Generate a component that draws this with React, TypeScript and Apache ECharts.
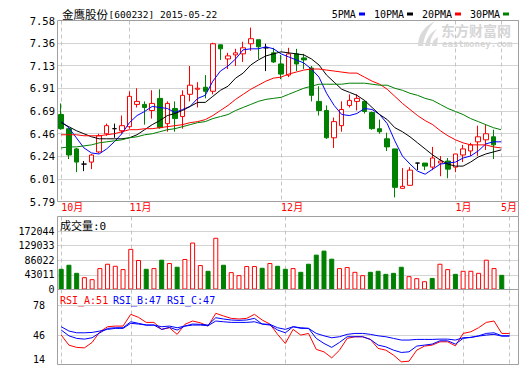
import React, { useEffect, useRef } from 'react';
import * as echarts from 'echarts';

const dates = [
  '2014-10-21', '2014-10-22', '2014-10-23', '2014-10-24', '2014-10-27', '2014-10-28', '2014-10-29', '2014-10-30', '2014-10-31',
  '2014-11-03', '2014-11-04', '2014-11-05', '2014-11-06', '2014-11-07', '2014-11-10', '2014-11-11', '2014-11-12', '2014-11-13', '2014-11-14',
  '2014-11-17', '2014-11-18', '2014-11-19', '2014-11-20', '2014-11-21', '2014-11-24', '2014-11-25', '2014-11-26', '2014-11-27', '2014-11-28',
  '2014-12-01', '2014-12-02', '2014-12-03', '2014-12-04', '2014-12-05', '2014-12-08', '2014-12-09', '2014-12-10', '2014-12-11', '2014-12-12',
  '2014-12-15', '2014-12-16', '2014-12-17', '2014-12-18', '2014-12-19', '2014-12-22', '2014-12-23', '2014-12-24', '2014-12-25', '2014-12-26',
  '2014-12-29', '2014-12-30', '2014-12-31',
  '2015-01-05', '2015-01-06', '2015-01-07', '2015-01-08', '2015-01-09', '2015-01-12',
  '2015-05-22',
];

// [open, close, low, high]
const candles = [
  [6.65, 6.51, 6.50, 6.76], [6.51, 6.25, 6.21, 6.52], [6.31, 6.18, 6.08, 6.32], [6.16, 6.16, 6.09, 6.19],
  [6.18, 6.25, 6.11, 6.26], [6.28, 6.44, 6.27, 6.46], [6.46, 6.54, 6.44, 6.56], [6.51, 6.51, 6.42, 6.56],
  [6.49, 6.54, 6.46, 6.64], [6.53, 6.83, 6.51, 6.88], [6.75, 6.78, 6.72, 6.91], [6.75, 6.72, 6.55, 6.78],
  [6.69, 6.76, 6.61, 6.89], [6.81, 6.52, 6.51, 6.90], [6.56, 6.76, 6.48, 6.78], [6.71, 6.61, 6.48, 6.78],
  [6.63, 6.84, 6.51, 6.89], [6.85, 6.94, 6.78, 7.13], [6.90, 6.91, 6.72, 6.97], [6.92, 6.88, 6.81, 7.04],
  [6.88, 7.35, 6.85, 7.36], [7.34, 7.30, 7.19, 7.34], [7.20, 7.23, 7.10, 7.26], [7.24, 7.26, 7.13, 7.30],
  [7.25, 7.31, 7.17, 7.37], [7.35, 7.40, 7.28, 7.51], [7.39, 7.32, 7.20, 7.39], [7.31, 7.31, 7.08, 7.35],
  [7.26, 7.17, 7.16, 7.31], [7.15, 7.05, 7.00, 7.24], [7.04, 7.25, 7.02, 7.31], [7.25, 7.15, 7.08, 7.30],
  [7.21, 7.19, 7.10, 7.25], [7.11, 6.84, 6.78, 7.13], [6.78, 6.69, 6.64, 6.93], [6.69, 6.42, 6.41, 6.74],
  [6.42, 6.58, 6.32, 6.62], [6.54, 6.70, 6.48, 6.78], [6.74, 6.79, 6.72, 6.85], [6.78, 6.81, 6.69, 6.85],
  [6.78, 6.68, 6.66, 6.79], [6.67, 6.51, 6.50, 6.68], [6.51, 6.48, 6.46, 6.60], [6.41, 6.33, 6.29, 6.47],
  [6.31, 5.93, 5.83, 6.31], [5.92, 5.94, 5.92, 6.12], [5.95, 6.10, 5.95, 6.13], [6.17, 6.17, 6.10, 6.17],
  [6.17, 6.14, 6.10, 6.17], [6.13, 6.22, 6.10, 6.33], [6.17, 6.19, 6.04, 6.24], [6.19, 6.11, 6.02, 6.22],
  [6.13, 6.26, 6.08, 6.26], [6.25, 6.31, 6.18, 6.35], [6.29, 6.35, 6.24, 6.37], [6.38, 6.43, 6.24, 6.54],
  [6.40, 6.46, 6.30, 6.55], [6.43, 6.35, 6.21, 6.50],
];

const volumes = [
  61000, 72900, 49100, 36300, 30400, 63100, 75900, 69900, 60100, 119700,
  86900, 61000, 63100, 87800, 78000, 67000, 89900, 138400, 72000, 55100,
  152400, 72900, 51200, 42300, 69100, 69100, 64000, 78000, 69900, 61000,
  63100, 52100, 75900, 102700, 114600, 90800, 63100, 66100, 52100, 42300,
  52100, 55100, 46100, 49100, 67000, 39300, 33300, 24400, 34200, 75900,
  60100, 46100, 55100, 55100, 49100, 87800, 63100, 43200, 0,
];

const ma5 = [
  6.58, 6.52, 6.42, 6.32, 6.27, 6.26, 6.31, 6.38, 6.46, 6.57,
  6.64, 6.68, 6.73, 6.72, 6.71, 6.67, 6.70, 6.73, 6.81, 6.84,
  6.98, 7.08, 7.13, 7.20, 7.29, 7.30, 7.30, 7.32, 7.30, 7.25,
  7.22, 7.19, 7.16, 7.10, 7.02, 6.86, 6.74, 6.65, 6.64, 6.66,
  6.71, 6.70, 6.65, 6.56, 6.39, 6.24, 6.16, 6.09, 6.06, 6.11,
  6.16, 6.17, 6.18, 6.22, 6.24, 6.29, 6.36, 6.38, 6.38,
];
const ma10 = [
  6.57, 6.53, 6.49, 6.46, 6.43, 6.41, 6.41, 6.41, 6.41, 6.42,
  6.45, 6.50, 6.55, 6.59, 6.64, 6.66, 6.69, 6.73, 6.77, 6.77,
  6.83, 6.89, 6.93, 7.01, 7.06, 7.14, 7.19, 7.23, 7.25, 7.27,
  7.26, 7.25, 7.24, 7.20, 7.14, 7.04, 6.97, 6.90, 6.87, 6.84,
  6.79, 6.72, 6.65, 6.60, 6.52, 6.48, 6.43, 6.37, 6.31, 6.25,
  6.20, 6.16, 6.14, 6.14, 6.18, 6.23, 6.26, 6.28, 6.30,
];
const ma20 = [
  6.45, 6.45, 6.45, 6.44, 6.44, 6.44, 6.45, 6.46, 6.48, 6.50,
  6.50, 6.51, 6.51, 6.52, 6.53, 6.54, 6.55, 6.57, 6.58, 6.60,
  6.64, 6.69, 6.74, 6.80, 6.85, 6.90, 6.94, 6.98, 7.01, 7.02,
  7.05, 7.07, 7.09, 7.10, 7.10, 7.09, 7.08, 7.07, 7.06, 7.06,
  7.02, 6.98, 6.95, 6.90, 6.83, 6.76, 6.70, 6.64, 6.59, 6.55,
  6.49, 6.44, 6.40, 6.37, 6.35, 6.35, 6.35, 6.33, 6.32,
];
const ma30 = [
  6.32, 6.33, 6.33, 6.34, 6.35, 6.37, 6.38, 6.39, 6.40, 6.42,
  6.43, 6.45, 6.46, 6.48, 6.50, 6.51, 6.53, 6.55, 6.57, 6.58,
  6.61, 6.63, 6.65, 6.69, 6.72, 6.75, 6.78, 6.80, 6.81, 6.82,
  6.85, 6.88, 6.91, 6.93, 6.95, 6.95, 6.95, 6.95, 6.96, 6.96,
  6.96, 6.95, 6.94, 6.94, 6.91, 6.89, 6.86, 6.84, 6.81, 6.79,
  6.75, 6.71, 6.68, 6.65, 6.61, 6.58, 6.55, 6.52, 6.50,
];

const rsiA = [
  46.0, 35.1, 32.6, 32.1, 38.0, 49.6, 55.1, 55.8, 55.8, 68.6,
  65.3, 59.8, 59.8, 52.2, 54.0, 46.8, 57.7, 61.3, 59.4, 55.8,
  69.7, 66.8, 64.2, 63.5, 64.2, 68.6, 62.4, 58.0, 46.8, 36.9,
  52.2, 46.0, 47.8, 30.4, 27.8, 21.2, 29.6, 42.4, 44.2, 44.2,
  41.3, 31.5, 29.6, 24.2, 16.9, 17.6, 29.6, 34.0, 35.1, 38.7,
  38.7, 34.3, 47.8, 49.6, 54.0, 59.8, 61.3, 47.8, 47.8,
];
const rsiB = [
  51.5, 45.2, 42.4, 41.6, 43.1, 48.5, 53.3, 54.0, 54.0, 60.5,
  58.8, 56.9, 56.9, 52.2, 54.4, 51.5, 55.8, 58.0, 57.7, 56.9,
  64.9, 63.5, 62.4, 62.0, 62.4, 64.2, 58.0, 56.9, 51.5, 48.5,
  55.1, 53.3, 53.3, 42.4, 36.9, 32.6, 38.0, 44.2, 44.2, 44.2,
  41.3, 35.1, 33.2, 29.6, 27.1, 27.8, 34.0, 35.1, 36.2, 39.8,
  39.8, 36.2, 42.4, 43.5, 45.2, 47.8, 48.5, 45.2, 45.2,
];
const rsiC = [
  55.1, 50.4, 48.5, 48.5, 48.9, 50.4, 52.2, 53.3, 53.3, 58.8,
  58.0, 56.9, 56.9, 55.1, 55.8, 54.0, 55.8, 56.9, 56.9, 56.2,
  61.3, 60.5, 59.8, 59.8, 59.8, 60.5, 58.0, 57.7, 54.0, 52.2,
  55.1, 54.0, 53.3, 47.8, 45.2, 43.1, 44.2, 46.8, 47.8, 47.8,
  46.8, 45.2, 44.2, 42.4, 40.6, 40.6, 41.3, 41.3, 41.3, 41.6,
  41.6, 40.6, 43.1, 43.5, 44.9, 46.0, 46.8, 44.9, 44.9,
];

const priceTicks = ['5.79', '6.01', '6.24', '6.46', '6.69', '6.91', '7.13', '7.36', '7.58'];
const volumeTicks = ['0', '43011', '86022', '129033', '172044'];
const rsiTicks = ['14', '46', '78'];

const stockName = '金鹰股份';
const stockInfo = '[600232] 2015-05-22';
const volumeTitle = '成交量:0';
const rsiLabels = [
  { text: 'RSI_A:51', color: '#ff0000' },
  { text: 'RSI_B:47', color: '#0000ff' },
  { text: 'RSI_C:47', color: '#0000ff' },
];
const maLegend = [
  { name: '5PMA', color: '#0000ff' },
  { name: '10PMA', color: '#000000' },
  { name: '20PMA', color: '#ff0000' },
  { name: '30PMA', color: '#008000' },
];

const MONO = '"DejaVu Sans Mono", "Noto Sans CJK SC", monospace';
const CJK = '"Noto Sans CJK SC", sans-serif';
const GRID_COLOR = '#d4d4d4';
const FRAME_COLOR = '#a0a0a0';
const DASH_COLOR = '#c4c4c4';
const RED = '#ff0000';
const GREEN = '#008000';

const PRICE_MIN = 5.79;
const PRICE_MAX = 7.58;
const PRICE_STEP = 0.22375;
const VOL_STEP = 43011;
const VOL_MAX = 215055;
const RSI_MIN = 14;
const RSI_MAX = 95.6;
const RSI_STEP = 32;

const LOGO_PATH =
  'M3 25 C3 15 8 6 20 0 C13 7 9 15 8 25 Z M10 25 C11 18 15 12 22 8 C18 13 15 18 15 25 Z M17 25 C17 21 19 18 23 16 L22 25 Z';

let logoRegistered = false;
function registerLogo() {
  if (logoRegistered) return;
  echarts.graphic.registerShape('emlogo', echarts.graphic.extendPath(LOGO_PATH, {}));
  logoRegistered = true;
}

const isMonthStart = (index: number) =>
  index === 0 || dates[index].slice(5, 7) !== dates[index - 1].slice(5, 7);
const monthLabel = (value: string) => `${parseInt(value.slice(5, 7), 10)}月`;

function tickLabel(v: number, min: number, step: number, labels: string[]) {
  const idx = Math.round((v - min) / step);
  if (Math.abs(v - (min + idx * step)) > step * 0.01) return '';
  return labels[idx] ?? '';
}

const FRAME_L = 57.5;
const FRAME_W = 461;
const DATA_L = 61.2;
const DATA_W = 448.3;
const PANELS = [
  { top: 20.5, height: 181 },
  { top: 216.5, height: 73 },
  { top: 289.5, height: 75 },
];

export default function App() {
  const ref = useRef<HTMLDivElement>(null);

  useEffect(() => {
    if (!ref.current) return;
    registerLogo();
    const chart = echarts.init(ref.current, undefined, { renderer: 'svg' });

    const grids: any[] = [];
    PANELS.forEach((p) => {
      grids.push({ left: FRAME_L, top: p.top, width: FRAME_W, height: p.height });
      grids.push({ left: DATA_L, top: p.top, width: DATA_W, height: p.height });
    });

    const hiddenX = (gridIndex: number) => ({ gridIndex, type: 'value', min: 0, max: 1, show: false });
    const catX = (gridIndex: number, showLabel: boolean) => ({
      gridIndex,
      type: 'category',
      data: dates,
      boundaryGap: false,
      axisLine: { show: false },
      axisTick: { show: false },
      axisLabel: {
        show: showLabel,
        interval: (i: number) => isMonthStart(i),
        formatter: (v: string) => monthLabel(v),
        color: RED,
        align: 'left',
        margin: 1,
        fontSize: 10,
        fontFamily: MONO,
      },
      splitLine: {
        show: true,
        interval: (i: number) => isMonthStart(i),
        lineStyle: { color: DASH_COLOR, width: 1, type: [4, 3] },
      },
    });

    const frameY = (gridIndex: number, min: number, max: number, step: number, labels: string[], margin: number, fontSize: number) => ({
      gridIndex,
      type: 'value',
      min,
      max,
      interval: step,
      axisLine: { show: false },
      axisTick: { show: false },
      splitLine: { show: true, lineStyle: { color: GRID_COLOR, width: 1 } },
      axisLabel: {
        margin,
        fontSize,
        color: '#000',
        fontFamily: MONO,
        verticalAlignMinLabel: gridIndex === 4 ? 'bottom' : 'middle',
        formatter: (v: number) => tickLabel(v, min, step, labels),
      },
    });
    const dataY = (gridIndex: number, min: number, max: number) => ({ gridIndex, type: 'value', min, max, show: false });

    const lineSeries = (name: string, data: number[], color: string, axis: number) => ({
      name,
      type: 'line',
      xAxisIndex: axis,
      yAxisIndex: axis,
      data,
      symbol: 'none',
      showSymbol: false,
      silent: true,
      lineStyle: { color, width: 1 },
      z: 3,
    });

    const volumeData = volumes.map((v, i) => {
      const c = candles[i];
      if (!c || v === 0) return { value: v, itemStyle: { opacity: 0 } };
      const up = c[1] >= c[0];
      return {
        value: v,
        itemStyle: up
          ? { color: '#ffffff', borderColor: RED, borderWidth: 1 }
          : { color: GREEN, borderColor: GREEN, borderWidth: 1 },
      };
    });

    const graphics: any[] = [];
    PANELS.forEach((p) => {
      graphics.push({
        type: 'rect',
        z: 50,
        silent: true,
        shape: { x: FRAME_L, y: p.top, width: FRAME_W, height: p.height },
        style: { fill: 'none', stroke: FRAME_COLOR, lineWidth: 1 },
      });
    });
    graphics.push({
      type: 'line',
      z: 50,
      silent: true,
      shape: { x1: FRAME_L + FRAME_W, y1: PANELS[0].top + PANELS[0].height, x2: FRAME_L + FRAME_W, y2: PANELS[1].top },
      style: { stroke: FRAME_COLOR, lineWidth: 1 },
    });
    // watermark
    graphics.push({
      type: 'emlogo',
      x: 415,
      y: 21,
      scaleX: 1,
      scaleY: 1,
      z: 1,
      silent: true,
      style: { fill: '#dadada' },
    });
    graphics.push({
      type: 'text',
      z: 1,
      silent: true,
      style: { text: '东方财富网', x: 441, y: 29.5, fill: '#d6d6d6', font: `bold 14px ${CJK}`, textAlign: 'left', textVerticalAlign: 'middle' },
    });
    graphics.push({
      type: 'text',
      z: 1,
      silent: true,
      style: { text: 'eastmoney.com', x: 442, y: 43.5, fill: '#d6d6d6', font: `bold 9px ${MONO}`, textAlign: 'left', textVerticalAlign: 'middle' },
    });
    // title
    graphics.push({
      type: 'text',
      silent: true,
      style: { text: stockName, x: 62, y: 14, fill: '#000', font: `11.5px ${CJK}`, textAlign: 'left', textVerticalAlign: 'middle' },
    });
    graphics.push({
      type: 'text',
      silent: true,
      style: { text: stockInfo, x: 108.5, y: 14, fill: '#000', font: `9.5px ${MONO}`, textAlign: 'left', textVerticalAlign: 'middle' },
    });
    // MA legend
    const legendX = [331.7, 374, 422, 470];
    const markerX = [359, 407, 455, 503];
    maLegend.forEach((item, i) => {
      graphics.push({
        type: 'text',
        silent: true,
        style: { text: item.name, x: legendX[i], y: 14, fill: '#000', font: `10px ${MONO}`, textAlign: 'left', textVerticalAlign: 'middle' },
      });
      graphics.push({
        type: 'rect',
        silent: true,
        shape: { x: markerX[i], y: 12.5, width: 6, height: 3 },
        style: { fill: item.color },
      });
    });
    // volume title
    graphics.push({
      type: 'text',
      silent: true,
      z: 60,
      style: { text: volumeTitle, x: 60, y: 226, fill: '#000', font: `11px ${MONO}`, textAlign: 'left', textVerticalAlign: 'middle' },
    });
    // RSI titles
    const rsiX = [60, 113, 167];
    rsiLabels.forEach((r, i) => {
      graphics.push({
        type: 'text',
        silent: true,
        z: 60,
        style: { text: r.text, x: rsiX[i], y: 300, fill: r.color, font: `10px ${MONO}`, textAlign: 'left', textVerticalAlign: 'middle' },
      });
    });

    const option: any = {
      animation: false,
      backgroundColor: '#ffffff',
      textStyle: { fontFamily: MONO },
      grid: grids,
      xAxis: [hiddenX(0), catX(1, true), hiddenX(2), catX(3, false), hiddenX(4), catX(5, false)],
      yAxis: [
        frameY(0, PRICE_MIN, PRICE_MAX, PRICE_STEP, priceTicks, 2.5, 10.5),
        dataY(1, PRICE_MIN, PRICE_MAX),
        frameY(2, 0, VOL_MAX, VOL_STEP, volumeTicks, 3, 10),
        dataY(3, 0, VOL_MAX),
        frameY(4, RSI_MIN, RSI_MAX, RSI_STEP, rsiTicks, 12.5, 10),
        dataY(5, RSI_MIN, RSI_MAX),
      ],
      series: [
        {
          name: 'K',
          type: 'candlestick',
          xAxisIndex: 1,
          yAxisIndex: 1,
          data: candles,
          barWidth: 5,
          clip: false,
          silent: true,
          z: 2,
          itemStyle: {
            color: '#ffffff',
            color0: GREEN,
            borderColor: RED,
            borderColor0: GREEN,
            borderColorDoji: '#000000',
            borderWidth: 1,
          },
        },
        lineSeries('5PMA', ma5, '#0000ff', 1),
        lineSeries('10PMA', ma10, '#000000', 1),
        lineSeries('20PMA', ma20, RED, 1),
        lineSeries('30PMA', ma30, GREEN, 1),
        {
          name: '成交量',
          type: 'bar',
          xAxisIndex: 3,
          yAxisIndex: 3,
          data: volumeData,
          barWidth: 5,
          clip: false,
          silent: true,
        },
        lineSeries('RSI_A', rsiA, RED, 5),
        lineSeries('RSI_B', rsiB, '#0000ff', 5),
        lineSeries('RSI_C', rsiC, '#0000ff', 5),
      ],
      graphic: graphics,
    };

    chart.setOption(option);
    return () => chart.dispose();
  }, []);

  return (
    <div
      ref={ref}
      style={{ position: 'fixed', left: 0, top: 0, width: 520, height: 365, background: '#fff' }}
    />
  );
}
